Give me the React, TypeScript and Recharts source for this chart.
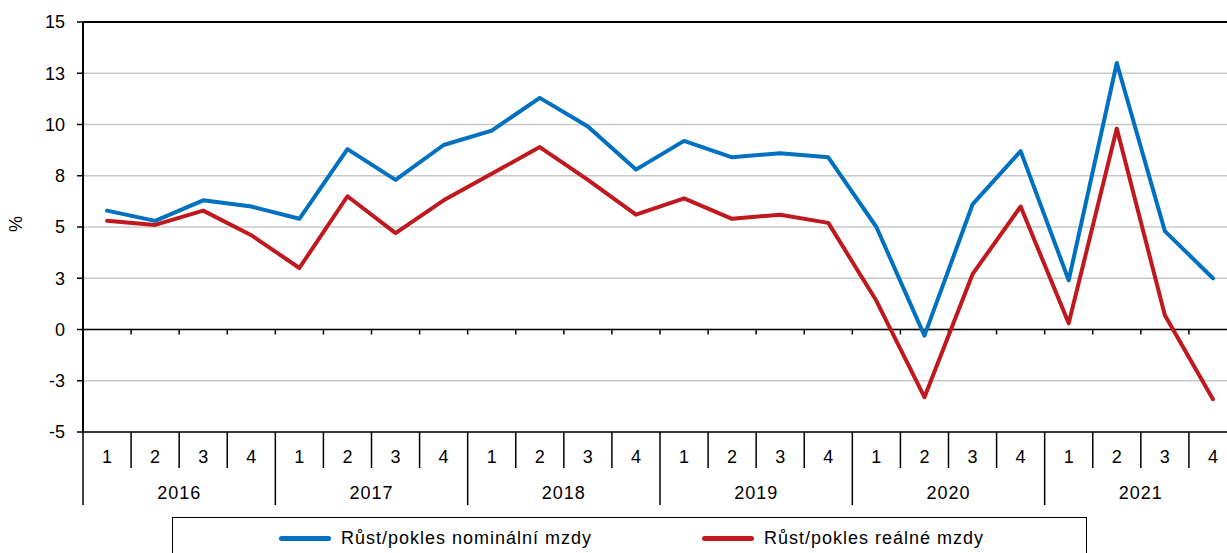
import React from "react"
import {
  LineChart,
  Line,
  XAxis,
  YAxis,
  CartesianGrid,
  ReferenceLine,
  Legend,
} from "recharts"

const years = ["2016", "2017", "2018", "2019", "2020", "2021"]
const quarters = ["1", "2", "3", "4"]

// Růst/pokles nominální mzdy (%)
const nominal = [
  5.8, 5.3, 6.3, 6.0,
  5.4, 8.8, 7.3, 9.0,
  9.7, 11.3, 9.9, 7.8,
  9.2, 8.4, 8.6, 8.4,
  5.0, -0.3, 6.1, 8.7,
  2.4, 13.0, 4.8, 2.5,
]

// Růst/pokles reálné mzdy (%)
const real = [
  5.3, 5.1, 5.8, 4.6,
  3.0, 6.5, 4.7, 6.3,
  7.6, 8.9, 7.3, 5.6,
  6.4, 5.4, 5.6, 5.2,
  1.4, -3.3, 2.7, 6.0,
  0.3, 9.8, 0.7, -3.4,
]

const yTicks = [-5, -2.5, 0, 2.5, 5, 7.5, 10, 12.5, 15]

const data = years.flatMap((year, yi) =>
  quarters.map((q, qi) => ({
    key: `${year}-${q}`,
    year,
    q,
    nominal: nominal[yi * 4 + qi],
    real: real[yi * 4 + qi],
  }))
)

// layout
const W = 1245
const H = 553
const MARGIN = { top: 22, right: 8, left: 23, bottom: 41 }
const Y_W = 60
const X_H = 80
const PLOT_LEFT = MARGIN.left + Y_W
const PLOT_RIGHT = W - MARGIN.right
const BW = (PLOT_RIGHT - PLOT_LEFT) / data.length
const AXIS_Y = H - MARGIN.bottom - X_H

const FONT = "'Liberation Sans', Arial, sans-serif"
const FS = 18

// Excel-like "0" format: round half away from zero
const fmt = (v: number) => String(Math.sign(v) * Math.round(Math.abs(v)))

function CategoryTick(props: any) {
  const { x, index } = props
  const d = data[index]
  if (!d) return null
  const left = x - BW / 2
  const yearStart = d.q === "1"
  return (
    <g>
      <line
        x1={left}
        x2={left}
        y1={AXIS_Y}
        y2={yearStart ? AXIS_Y + 73 : AXIS_Y + 36}
        stroke="#000"
        strokeWidth={1.5}
      />
      <text x={x} y={AXIS_Y + 31} textAnchor="middle" fontSize={FS} fill="#000">
        {d.q}
      </text>
      {d.q === "2" && (
        <text
          x={x + BW / 2}
          y={AXIS_Y + 67}
          textAnchor="middle"
          fontSize={FS}
          fill="#000"
          style={{ letterSpacing: 1 }}
        >
          {d.year}
        </text>
      )}
    </g>
  )
}

function ZeroLine(props: any) {
  const { x1, x2, y1 } = props
  const marks = data.slice(1).map((_, i) => x1 + (i + 1) * BW)
  return (
    <g>
      <line x1={x1} x2={x2} y1={y1} y2={y1} stroke="#000" strokeWidth={1.5} />
      {marks.map((mx) => (
        <line key={mx} x1={mx} x2={mx} y1={y1} y2={y1 + 5} stroke="#000" strokeWidth={1.5} />
      ))}
    </g>
  )
}

function LegendBox(props: any) {
  const { payload = [] } = props
  return (
    <div
      style={{
        border: "1px solid #000",
        boxSizing: "border-box",
        height: 60,
        display: "flex",
        justifyContent: "center",
        gap: 110,
        paddingTop: 10,
        paddingLeft: 4,
        fontFamily: FONT,
        fontSize: FS,
        color: "#000",
      }}
    >
      {payload.map((p: any) => (
        <div key={p.value} style={{ display: "flex", alignItems: "center", height: 20 }}>
          <div
            style={{
              width: 52,
              height: 5,
              borderRadius: 3,
              background: p.color,
              marginRight: 10,
            }}
          />
          <span style={{ letterSpacing: 1, whiteSpace: "nowrap" }}>{p.value}</span>
        </div>
      ))}
    </div>
  )
}

export default function App() {
  return (
    <div
      style={{
        position: "absolute",
        left: 0,
        top: 0,
        width: 1227,
        height: 553,
        overflow: "hidden",
        background: "#fff",
        fontFamily: FONT,
      }}
    >
      <LineChart width={W} height={H} data={data} margin={MARGIN}>
        <CartesianGrid vertical={false} stroke="#c8c8c8" strokeWidth={1.5} />
        <XAxis
          dataKey="key"
          interval={0}
          height={X_H}
          padding={{ left: BW / 2, right: BW / 2 }}
          tickLine={false}
          axisLine={{ stroke: "#000", strokeWidth: 1.5 }}
          tick={<CategoryTick />}
        />
        <YAxis
          width={Y_W}
          domain={[-5, 15]}
          ticks={yTicks}
          interval={0}
          tickFormatter={fmt}
          tickSize={6}
          tickMargin={12}
          tick={{ fontSize: FS, fill: "#000" }}
          tickLine={{ stroke: "#000", strokeWidth: 1.5 }}
          axisLine={{ stroke: "#000", strokeWidth: 2 }}
          label={() => (
            <text
              x={16}
              y={224}
              transform="rotate(-90 16 224)"
              textAnchor="middle"
              dominantBaseline="central"
              fontSize={FS}
              fill="#000"
            >
              %
            </text>
          )}
        />
        <ReferenceLine y={15} stroke="#000" strokeWidth={2} />
        <ReferenceLine y={0} shape={<ZeroLine />} />
        <Line
          type="linear"
          dataKey="nominal"
          name="Růst/pokles nominální mzdy"
          stroke="#0070c0"
          strokeWidth={4}
          strokeLinecap="round"
          strokeLinejoin="round"
          dot={false}
          activeDot={false}
          isAnimationActive={false}
        />
        <Line
          type="linear"
          dataKey="real"
          name="Růst/pokles reálné mzdy"
          stroke="#c0181f"
          strokeWidth={4}
          strokeLinecap="round"
          strokeLinejoin="round"
          dot={false}
          activeDot={false}
          isAnimationActive={false}
        />
        <Legend
          layout="horizontal"
          verticalAlign="middle"
          align="center"
          width={915}
          wrapperStyle={{ left: 172, top: 517, width: 915, height: 60 }}
          content={<LegendBox />}
        />
      </LineChart>
    </div>
  )
}
